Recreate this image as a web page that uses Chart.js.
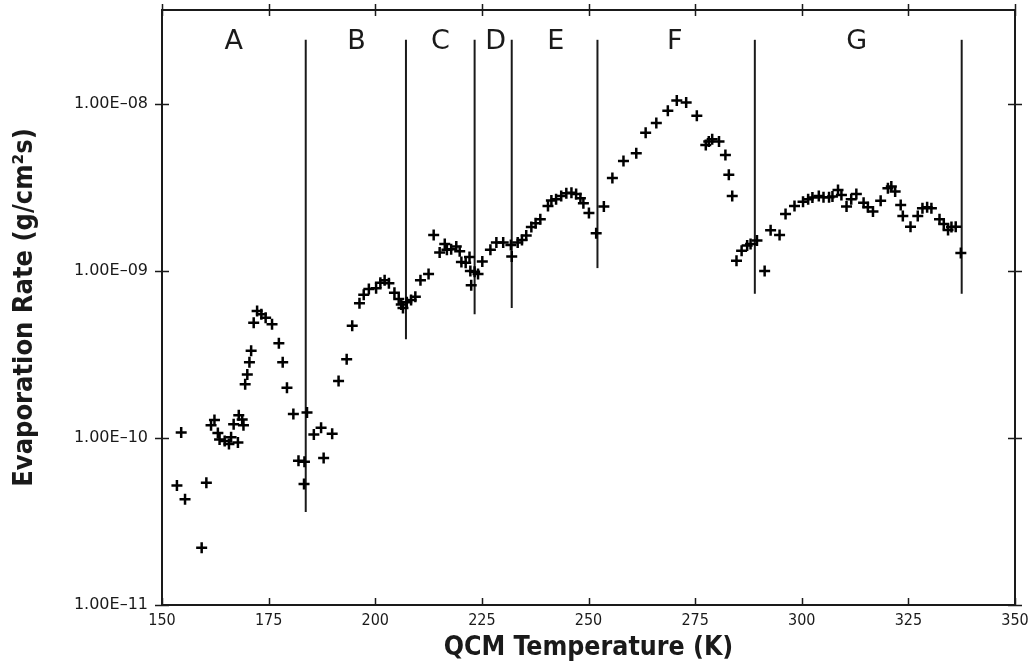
<!DOCTYPE html>
<html>
<head>
<meta charset="utf-8">
<script src="https://cdn.jsdelivr.net/npm/chart.js@4.4.0/dist/chart.umd.min.js"></script>
<style>
    html, body { margin: 0; padding: 0; background: #fff; }
    #wrap { width: 1033px; height: 664px; }
</style>
</head>
<body>
<div id="wrap"><canvas id="chart"></canvas></div>
<script>
// QCM temperature (K) for each measured point
const temperature = [
    153.5, 154.5, 155.4, 159.3, 160.4, 161.5, 162.3, 163.1, 163.5, 164.7,
    165.7, 166.2, 166.8, 167.8, 168.0, 168.8, 169.1, 169.5, 170.0, 170.5,
    170.9, 171.5, 172.3, 173.3, 174.3, 175.8, 177.4, 178.3, 179.3, 180.8,
    182.0, 183.4, 183.3, 184.0, 185.6, 187.3, 187.9, 189.9, 191.4, 193.3,
    194.6, 196.3, 197.3, 198.5, 200.2, 201.2, 202.2, 203.2, 204.5, 205.5,
    206.1, 206.5, 207.4, 208.4, 209.4, 210.6, 212.5, 213.7, 215.1, 216.3,
    216.8, 217.8, 219.0, 219.8, 220.2, 221.2, 222.1, 222.3, 222.5, 223.3,
    224.1, 225.1, 227.0, 228.4, 230.0, 231.8, 232.0, 233.4, 234.4, 235.4,
    236.6, 237.6, 238.7, 240.5, 241.3, 242.4, 243.6, 244.8, 246.0, 247.1,
    248.1, 248.8, 250.1, 251.8, 253.6, 255.6, 258.2, 261.2, 263.4, 265.9,
    268.6, 270.7, 272.9, 275.4, 277.5, 278.2, 279.0, 280.6, 282.1, 282.9,
    283.7, 284.7, 285.9, 287.2, 288.0, 289.5, 291.3, 292.7, 294.8, 296.2,
    298.3, 300.3, 301.5, 302.5, 304.0, 305.1, 306.4, 307.2, 308.5, 309.3,
    310.5, 311.6, 312.8, 314.5, 315.5, 316.7, 318.5, 320.2, 321.0, 321.9,
    323.2, 323.7, 325.5, 327.2, 328.3, 329.4, 330.4, 332.3, 333.3, 334.3,
    335.1, 336.1, 337.3
];

// Evaporation rate (g/cm^2 s), same order as temperature
const rate = [
    5.2e-11, 1.08e-10, 4.3e-11, 2.2e-11, 5.4e-11, 1.19e-10, 1.28e-10, 1.07e-10, 9.8e-11, 9.6e-11,
    9.2e-11, 1.01e-10, 1.21e-10, 9.4e-11, 1.37e-10, 1.29e-10, 1.19e-10, 2.1e-10, 2.4e-10, 2.84e-10,
    3.33e-10, 4.9e-10, 5.76e-10, 5.5e-10, 5.25e-10, 4.8e-10, 3.69e-10, 2.84e-10, 2.0e-10, 1.39e-10,
    7.3e-11, 7.2e-11, 5.3e-11, 1.42e-10, 1.05e-10, 1.15e-10, 7.6e-11, 1.06e-10, 2.19e-10, 2.96e-10,
    4.69e-10, 6.4e-10, 7.2e-10, 7.8e-10, 7.88e-10, 8.5e-10, 8.8e-10, 8.44e-10, 7.4e-10, 6.8e-10,
    6.3e-10, 6.0e-10, 6.5e-10, 6.7e-10, 7.0e-10, 8.8e-10, 9.6e-10, 1.64e-9, 1.29e-9, 1.45e-9,
    1.34e-9, 1.35e-9, 1.40e-9, 1.31e-9, 1.13e-9, 1.12e-9, 1.21e-9, 1.0e-9, 8.2e-10, 9.9e-10,
    9.6e-10, 1.14e-9, 1.34e-9, 1.48e-9, 1.48e-9, 1.43e-9, 1.22e-9, 1.48e-9, 1.53e-9, 1.63e-9,
    1.83e-9, 1.93e-9, 2.04e-9, 2.45e-9, 2.64e-9, 2.69e-9, 2.81e-9, 2.92e-9, 2.94e-9, 2.89e-9,
    2.72e-9, 2.54e-9, 2.22e-9, 1.68e-9, 2.43e-9, 3.6e-9, 4.56e-9, 5.07e-9, 6.73e-9, 7.7e-9,
    9.1e-9, 1.047e-8, 1.018e-8, 8.5e-9, 5.68e-9, 5.95e-9, 6.15e-9, 5.95e-9, 4.95e-9, 3.76e-9,
    2.81e-9, 1.15e-9, 1.32e-9, 1.42e-9, 1.45e-9, 1.52e-9, 1.0e-9, 1.75e-9, 1.64e-9, 2.19e-9,
    2.45e-9, 2.60e-9, 2.69e-9, 2.75e-9, 2.81e-9, 2.76e-9, 2.76e-9, 2.79e-9, 3.05e-9, 2.85e-9,
    2.43e-9, 2.69e-9, 2.89e-9, 2.56e-9, 2.41e-9, 2.27e-9, 2.63e-9, 3.13e-9, 3.2e-9, 2.99e-9,
    2.48e-9, 2.13e-9, 1.84e-9, 2.13e-9, 2.37e-9, 2.41e-9, 2.37e-9, 2.04e-9, 1.91e-9, 1.76e-9,
    1.83e-9, 1.84e-9, 1.28e-9
];

// region boundaries (vertical lines) and region letters
const boundaryTemps = [183.7, 207.2, 223.3, 232.0, 252.1, 289.0, 337.5];
const boundaryBottoms = [3.6e-11, 3.9e-10, 5.5e-10, 6.0e-10, 1.04e-9, 7.3e-10, 7.3e-10];
const boundaryTop = 2.42e-8;
const regionNames = ['A', 'B', 'C', 'D', 'E', 'F', 'G'];
const regionTemps = [166.8, 195.6, 215.3, 228.2, 242.3, 270.2, 312.9];
const regionLevel = 2.35e-8;

// axes
const xTicks = [150, 175, 200, 225, 250, 275, 300, 325, 350];
const xTickLabels = ['150', '175', '200', '225', '250', '275', '300', '325', '350'];
const yTicks = [1e-11, 1e-10, 1e-9, 1e-8];
const yTickLabels = ['1.00E\u201311', '1.00E\u201310', '1.00E\u201309', '1.00E\u201308'];
const yMin = 1e-11;
const yMax = 3.65e-8;

const ink = '#1a1a1a';

// frame around the plot with tick marks on all four sides
const frameTicks = {
    id: 'frameTicks',
    afterDraw(chart) {
        const { ctx, chartArea: a, scales: { x, y } } = chart;
        ctx.save();
        ctx.strokeStyle = ink;
        ctx.lineWidth = 2;
        ctx.strokeRect(a.left, a.top, a.right - a.left, a.bottom - a.top);
        ctx.lineWidth = 1.5;
        ctx.beginPath();
        xTicks.forEach(v => {
            const px = Math.round(x.getPixelForValue(v)) + 0.5;
            ctx.moveTo(px, a.bottom - 7);
            ctx.lineTo(px, a.bottom);
            ctx.moveTo(px, a.top - 6);
            ctx.lineTo(px, a.top + 6);
        });
        yTicks.forEach(v => {
            const py = Math.round(y.getPixelForValue(v)) + 0.5;
            ctx.moveTo(a.left - 7, py);
            ctx.lineTo(a.left + 7, py);
            ctx.moveTo(a.right - 7, py);
            ctx.lineTo(a.right + 7, py);
        });
        ctx.stroke();
        ctx.restore();
    }
};

// region letters above the data
const regionLetters = {
    id: 'regionLetters',
    afterDatasetsDraw(chart) {
        const { ctx, scales: { x, y } } = chart;
        ctx.save();
        ctx.fillStyle = ink;
        ctx.font = '27px "DejaVu Sans"';
        ctx.textAlign = 'center';
        ctx.textBaseline = 'middle';
        regionNames.forEach((name, i) => {
            ctx.fillText(name, x.getPixelForValue(regionTemps[i]), y.getPixelForValue(regionLevel));
        });
        ctx.restore();
    }
};

const points = temperature.map((t, i) => ({ x: t, y: rate[i] }));

const boundaryLines = boundaryTemps.map((t, i) => ({
    type: 'line',
    data: [{ x: t, y: boundaryBottoms[i] }, { x: t, y: boundaryTop }],
    borderColor: ink,
    borderWidth: 2,
    pointRadius: 0,
    fill: false
}));

new Chart(document.getElementById('chart'), {
    type: 'scatter',
    data: {
        datasets: [{
            data: points,
            pointStyle: 'cross',
            pointRadius: 5.5,
            borderColor: '#000',
            backgroundColor: '#000',
            borderWidth: 2.5
        }, ...boundaryLines]
    },
    options: {
        responsive: true,
        maintainAspectRatio: false,
        animation: false,
        layout: { padding: { top: 10, right: 18, left: 0, bottom: 0 } },
        plugins: {
            legend: { display: false },
            tooltip: { enabled: false }
        },
        scales: {
            x: {
                type: 'linear',
                min: 150,
                max: 350,
                grid: { display: false, drawTicks: false },
                border: { display: false },
                afterBuildTicks: scale => { scale.ticks = xTicks.map(v => ({ value: v })); },
                afterFit: scale => {
                    scale.height = 59;
                    scale.paddingLeft = 0;
                    scale.paddingRight = 0;
                },
                ticks: {
                    color: ink,
                    padding: 6,
                    maxRotation: 0,
                    font: { family: '"DejaVu Sans Condensed", "DejaVu Sans"', size: 16 },
                    callback: (v) => xTickLabels[xTicks.indexOf(v)]
                },
                title: {
                    display: true,
                    text: 'QCM Temperature (K)',
                    color: ink,
                    padding: { top: 0, bottom: 0 },
                    font: { family: '"DejaVu Sans Condensed", "DejaVu Sans"', size: 26.5, weight: 'bold' }
                }
            },
            y: {
                type: 'logarithmic',
                min: yMin,
                max: yMax,
                grid: { display: false, drawTicks: false },
                border: { display: false },
                afterBuildTicks: scale => { scale.ticks = yTicks.map(v => ({ value: v })); },
                afterFit: scale => {
                    scale.width = 162;
                    scale.paddingTop = 0;
                    scale.paddingBottom = 0;
                },
                ticks: {
                    color: ink,
                    padding: 14,
                    font: { family: '"DejaVu Sans"', size: 16 },
                    callback: (v) => yTickLabels[yTicks.indexOf(v)]
                },
                title: {
                    display: true,
                    text: 'Evaporation Rate (g/cm\u00b2s)',
                    color: ink,
                    padding: { top: 9, bottom: 0 },
                    font: { family: '"DejaVu Sans Condensed", "DejaVu Sans"', size: 27, weight: 'bold' }
                }
            }
        }
    },
    plugins: [frameTicks, regionLetters]
});
</script>
</body>
</html>
